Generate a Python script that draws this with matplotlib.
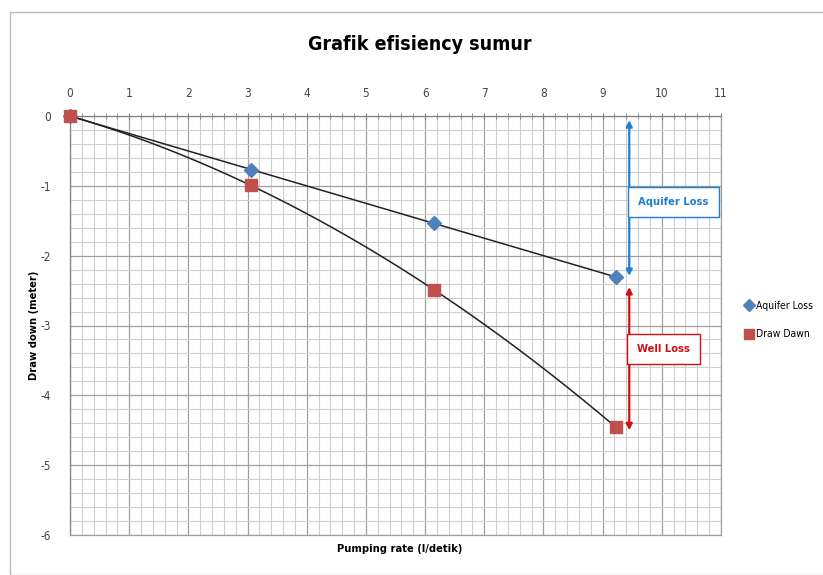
import matplotlib
matplotlib.use("Agg")
import matplotlib.pyplot as plt
import numpy as np
from matplotlib.ticker import MultipleLocator
from matplotlib.patches import Rectangle

# Data
pumping_rate = [0, 3.05, 6.15, 9.23]
aquifer_loss = [0, -0.77, -1.53, -2.31]
draw_dawn = [0, -0.99, -2.49, -4.46]
x_ticks = list(range(0, 12))
y_ticks = [0, -1, -2, -3, -4, -5, -6]

narrow = ['DejaVu Sans']
STR = 'condensed'

fig = plt.figure(figsize=(8.23, 5.75), dpi=100)
ax = fig.add_axes([70/823, 1-535/575, (721-70)/823, (535-116)/575])

ax.set_xlim(0, 11)
ax.set_ylim(-6, 0)
ax.xaxis.set_minor_locator(MultipleLocator(0.2))
ax.yaxis.set_minor_locator(MultipleLocator(0.2))
ax.set_xticks(x_ticks)
ax.set_yticks(y_ticks)
ax.set_xticklabels([str(v) for v in x_ticks], family=narrow, stretch=STR, fontsize=8.5, color='#444444')
ax.set_yticklabels([str(v) for v in y_ticks], family=narrow, stretch=STR, fontsize=8.5, color='#444444')
ax.xaxis.tick_top()
ax.tick_params(axis='x', which='both', top=True, bottom=False, direction='inout', length=5, color='#808080', pad=9)
ax.tick_params(axis='x', which='minor', length=4)
ax.tick_params(axis='y', which='both', left=False, pad=10)
ax.grid(which='major', color='#a0a0a0', linewidth=0.9)
ax.grid(which='minor', color='#cfcfcf', linewidth=0.8)
ax.set_axisbelow(True)
for s in ax.spines.values():
    s.set_color('#a0a0a0')
    s.set_linewidth(0.9)
ax.spines['top'].set_color('#808080')
ax.spines['left'].set_color('#808080')

# trend lines (black)
xs = np.linspace(0, pumping_rate[-1], 200)
p1 = np.polyfit(pumping_rate, aquifer_loss, 1)
ax.plot(xs, np.polyval(p1, xs), color='#222222', linewidth=1.1, zorder=3)
p2 = np.polyfit(pumping_rate, draw_dawn, 2)
ax.plot(xs, np.polyval(p2, xs), color='#222222', linewidth=1.1, zorder=3)

ax.plot(pumping_rate, aquifer_loss, linestyle='none', marker='D', markersize=7,
        color='#4F81BD', label='Aquifer Loss', zorder=4, clip_on=False)
ax.plot(pumping_rate, draw_dawn, linestyle='none', marker='s', markersize=9,
        color='#C0504D', label='Draw Dawn', zorder=4, clip_on=False)

# arrows
xa = 9.45
ax.annotate('', xy=(xa, -0.02), xytext=(xa, aquifer_loss[-1] - 0.02),
            arrowprops=dict(arrowstyle='<|-|>', color='#1f7fd0', lw=1.6, mutation_scale=9))
ax.annotate('', xy=(xa, aquifer_loss[-1] - 0.1), xytext=(xa, draw_dawn[-1] - 0.08),
            arrowprops=dict(arrowstyle='<|-|>', color='#d01010', lw=1.6, mutation_scale=9))

ax.text(10.2, -1.23, 'Aquifer Loss', family=narrow, stretch=STR, fontsize=8, fontweight='bold',
        color='#1f7fd0', ha='center', va='center',
        bbox=dict(boxstyle='square,pad=0.9', fc='white', ec='#1f7fd0', lw=1.0))
ax.text(10.03, -3.34, 'Well Loss', family=narrow, stretch=STR, fontsize=8, fontweight='bold',
        color='#d01010', ha='center', va='center',
        bbox=dict(boxstyle='square,pad=0.9', fc='white', ec='#d01010', lw=1.0))

fig.text(0.51, 1-45/575, 'Grafik efisiency sumur', family=narrow, stretch=STR, fontsize=14,
         fontweight='bold', ha='center', va='center')
fig.text(400/823, 1-549/575, 'Pumping rate (l/detik)', family=narrow, stretch=STR, fontsize=8,
         fontweight='bold', ha='center', va='center')
fig.text(34/823, 1-325/575, 'Draw down (meter)', family=narrow, stretch=STR, fontsize=8,
         fontweight='bold', ha='center', va='center', rotation=90)

leg = fig.legend(loc='center left', bbox_to_anchor=(738/823, 1-320/575), frameon=False,
                 prop={'family': narrow, 'size': 7.5, 'stretch': STR}, handletextpad=0.1,
                 handlelength=1.0, labelspacing=1.8, markerscale=0.85, borderaxespad=0.2)

# outer chart frame
fig.patches.append(Rectangle((10/823, 0), 1, 1-12/575, transform=fig.transFigure,
                             fill=False, ec='#bbbbbb', lw=1.0))

fig.savefig('out.png', dpi=100)
